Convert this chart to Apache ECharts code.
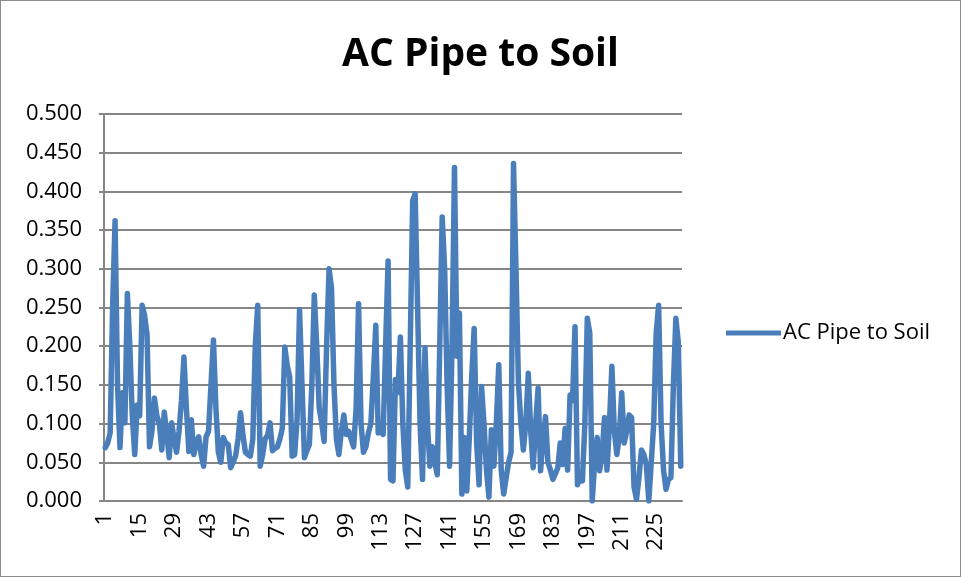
<!DOCTYPE html>
<html>
<head>
<meta charset="utf-8">
<script src="https://cdn.jsdelivr.net/npm/echarts@6/dist/echarts.min.js"></script>
<style>
html,body{margin:0;padding:0;background:#fff;}
#chart1{width:959px;height:575px;border:1px solid #8c8c8c;}
</style>
</head>
<body>
<div id="chart1"></div>
<script>
// 图表数据
var chartTitle = 'AC Pipe to Soil';
var seriesName = 'AC Pipe to Soil';
var yTicks = [0, 0.05, 0.1, 0.15, 0.2, 0.25, 0.3, 0.35, 0.4, 0.45, 0.5];
var acValues = [
    0.069, 0.075, 0.088, 0.250, 0.362, 0.150, 0.069, 0.140, 0.101, 0.268,
    0.200, 0.110, 0.060, 0.124, 0.110, 0.253, 0.240, 0.215, 0.070, 0.090,
    0.133, 0.110, 0.100, 0.066, 0.115, 0.088, 0.056, 0.101, 0.080, 0.063,
    0.090, 0.130, 0.186, 0.120, 0.064, 0.105, 0.060, 0.075, 0.083, 0.060,
    0.045, 0.083, 0.090, 0.150, 0.208, 0.120, 0.063, 0.050, 0.082, 0.075,
    0.073, 0.043, 0.050, 0.058, 0.080, 0.114, 0.085, 0.063, 0.060, 0.058,
    0.080, 0.200, 0.253, 0.045, 0.060, 0.080, 0.085, 0.101, 0.065, 0.068,
    0.070, 0.080, 0.094, 0.199, 0.175, 0.160, 0.058, 0.060, 0.105, 0.247,
    0.150, 0.056, 0.065, 0.073, 0.150, 0.266, 0.200, 0.120, 0.101, 0.077,
    0.200, 0.300, 0.275, 0.150, 0.080, 0.060, 0.090, 0.111, 0.086, 0.090,
    0.080, 0.070, 0.120, 0.255, 0.100, 0.063, 0.070, 0.088, 0.100, 0.160,
    0.227, 0.088, 0.090, 0.086, 0.200, 0.310, 0.028, 0.026, 0.157, 0.140,
    0.212, 0.100, 0.040, 0.018, 0.200, 0.388, 0.397, 0.250, 0.100, 0.028,
    0.198, 0.100, 0.045, 0.070, 0.050, 0.034, 0.200, 0.367, 0.300, 0.150,
    0.045, 0.200, 0.431, 0.187, 0.243, 0.009, 0.082, 0.013, 0.080, 0.160,
    0.223, 0.075, 0.021, 0.148, 0.100, 0.040, 0.005, 0.092, 0.045, 0.100,
    0.176, 0.040, 0.009, 0.030, 0.050, 0.063, 0.436, 0.300, 0.153, 0.100,
    0.066, 0.100, 0.165, 0.090, 0.043, 0.100, 0.146, 0.039, 0.080, 0.109,
    0.050, 0.040, 0.028, 0.035, 0.043, 0.075, 0.047, 0.094, 0.040, 0.137,
    0.130, 0.225, 0.021, 0.030, 0.026, 0.100, 0.236, 0.217, 0.000, 0.050,
    0.082, 0.039, 0.060, 0.108, 0.040, 0.100, 0.174, 0.090, 0.060, 0.083,
    0.140, 0.075, 0.090, 0.111, 0.108, 0.018, 0.002, 0.030, 0.066, 0.060,
    0.047, 0.000, 0.050, 0.100, 0.217, 0.253, 0.100, 0.040, 0.015, 0.028,
    0.030, 0.150, 0.236, 0.205, 0.045
];
var categories = [];
for (var i = 1; i <= acValues.length; i++) {
    categories.push(String(i));
}

var myChart = {
	init:function(){
		var axisFont = 'Open Sans';
		var option = {
		    animation:false,
		    color:['#4a7ebb'],
		    title:{
		        text:chartTitle,
		        left:'center',
		        top:29,
		        textStyle:{
		            fontFamily:'Open Sans',
		            fontWeight:'bold',
		            fontSize:39,
		            color:'#000'
		        }
		    },
		    legend:{
		        data:[seriesName],
		        orient:'vertical',
		        left:720,
		        top:316,
		        itemWidth:55,
		        itemHeight:5,
		        itemGap:4,
		        icon:'rect',
		        textStyle:{
		            fontFamily:axisFont,
		            fontSize:22,
		            color:'#000',
		            padding:[0,0,0,-3]
		        }
		    },
		    grid:{
		        left:103,
		        right:278,
		        top:113,
		        bottom:75
		    },
		    xAxis:{
		        type:'category',
		        boundaryGap:true,
		        data:categories,
		        axisLine:{
		            lineStyle:{color:'#868686',width:2}
		        },
		        axisTick:{
		            interval:0,
		            length:6,
		            lineStyle:{color:'#a0a0a0',width:1}
		        },
		        axisLabel:{
		            interval:13,
		            rotate:90,
		            margin:12,
		            fontFamily:axisFont,
		            fontSize:22,
		            color:'#000'
		        }
		    },
		    yAxis:{
		        type:'value',
		        min:yTicks[0],
		        max:yTicks[yTicks.length - 1],
		        interval:0.05,
		        axisLine:{
		            show:true,
		            lineStyle:{color:'#868686',width:2}
		        },
		        axisTick:{
		            show:true,
		            length:5,
		            lineStyle:{color:'#868686',width:2}
		        },
		        axisLabel:{
		            margin:22,
		            fontFamily:axisFont,
		            fontSize:22,
		            color:'#000',
		            formatter:function(v){ return v.toFixed(3); }
		        },
		        splitLine:{
		            lineStyle:{color:'#868686',width:2}
		        }
		    },
		    series:[
		        {
		            name:seriesName,
		            type:'line',
		            data:acValues,
		            showSymbol:false,
		            symbol:'none',
		            lineStyle:{width:5.5,color:'#4a7ebb',cap:'round',join:'round'}
		        }
		    ]
		};
		var chart = echarts.init(document.getElementById('chart1'));
		chart.setOption(option);
		return chart;
	}
};

var chartObj = myChart.init();
</script>
</body>
</html>
